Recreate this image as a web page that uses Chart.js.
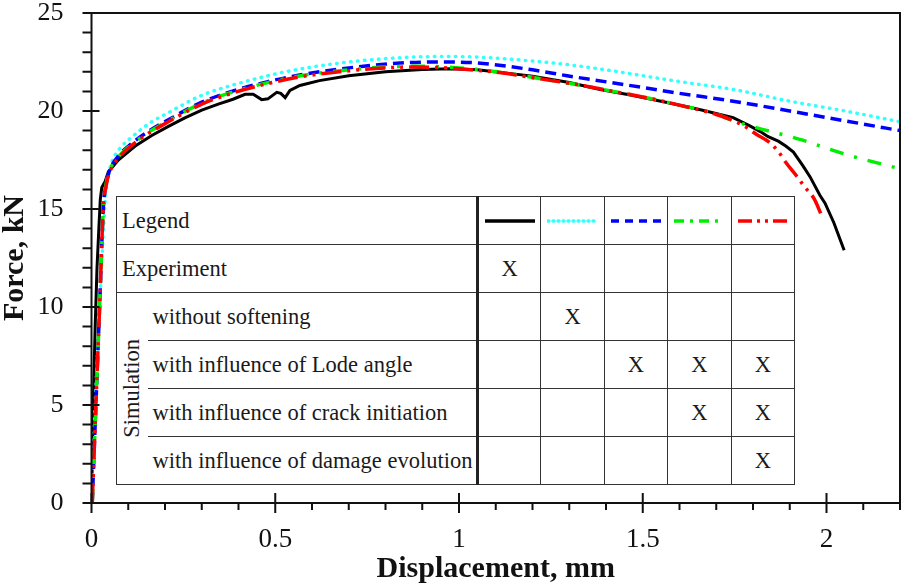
<!DOCTYPE html>
<html>
<head>
<meta charset="utf-8">
<script src="https://cdn.jsdelivr.net/npm/chart.js@4"></script>
<style>
  html, body { margin: 0; padding: 0; background: #fff; }
  #wrap { position: relative; width: 903px; height: 588px; }
  #wrap canvas { position: absolute; left: 0; top: 0; }
  #legendTable {
    position: absolute; left: 116px; top: 196px; width: 679px; height: 289px;
    border-collapse: collapse; table-layout: fixed; background: #fff;
    font-family: 'Liberation Serif', 'Times New Roman', serif; font-size: 22.5px; color: #1a1a1a;
  }
  #legendTable td { border: 1.5px solid #333; padding: 0; height: 47px; text-align: center; vertical-align: middle; white-space: nowrap; }
  #legendTable td.lbl { text-align: left; padding-left: 5px; }
  #legendTable td.sep { border-left: 3px solid #222; }
  #legendTable td.sim { border-right-style: hidden; }
  #legendTable td.sim div { writing-mode: vertical-rl; transform: rotate(180deg); margin: 0 auto; }
  #legendTable td.sub { border-left-style: hidden; }
  #legendTable svg { display: block; margin: 0 auto; }
</style>
</head>
<body>
<div id="wrap">
  <canvas id="myChart" width="903" height="588"></canvas>
  <table id="legendTable"></table>
</div>
<script>
// axis ticks
const xTicks = [0, 0.5, 1, 1.5, 2];
const yTicks = [0, 5, 10, 15, 20, 25];

// experiment (black solid)
const expX = [0, 0.003, 0.006, 0.01, 0.015, 0.02, 0.024, 0.028, 0.037, 0.046, 0.073, 0.118, 0.164, 0.208, 0.254, 0.3, 0.345, 0.385, 0.418, 0.44, 0.463, 0.48, 0.504, 0.515, 0.527, 0.54, 0.567, 0.62, 0.7, 0.8, 0.9, 0.975, 1.05, 1.2, 1.3, 1.384, 1.47, 1.566, 1.66, 1.746, 1.79, 1.82, 1.84, 1.87, 1.89, 1.91, 1.936, 1.955, 1.982, 1.996, 2.02, 2.048];
const expY = [0, 3, 6, 9, 12, 14, 15.5, 16.1, 16.4, 16.9, 17.5, 18.2, 18.75, 19.2, 19.65, 20.05, 20.35, 20.6, 20.85, 20.85, 20.58, 20.62, 20.95, 20.9, 20.68, 21.05, 21.3, 21.55, 21.8, 22.0, 22.12, 22.16, 22.1, 21.78, 21.45, 21.1, 20.8, 20.43, 20.05, 19.66, 19.25, 18.95, 18.7, 18.45, 18.2, 17.9, 17.2, 16.65, 15.7, 15.3, 14.3, 12.9];

// simulation without softening (cyan dotted)
const noSoftX = [0, 0.01, 0.02, 0.03, 0.038, 0.048, 0.06, 0.08, 0.118, 0.16, 0.208, 0.3, 0.39, 0.48, 0.57, 0.7, 0.84, 0.95, 1.05, 1.2, 1.294, 1.4, 1.5, 1.6, 1.746, 1.9, 2.05, 2.2];
const noSoftY = [0, 5, 9, 13, 15.6, 16.9, 17.6, 18.15, 18.8, 19.4, 19.9, 20.8, 21.35, 21.8, 22.15, 22.5, 22.72, 22.78, 22.75, 22.55, 22.37, 22.1, 21.8, 21.5, 21.1, 20.5, 20.0, 19.45];

// with influence of Lode angle (blue dashed)
const lodeX = [0.002, 0.012, 0.022, 0.032, 0.04, 0.05, 0.073, 0.1, 0.15, 0.209, 0.3, 0.39, 0.48, 0.57, 0.7, 0.84, 0.95, 1.05, 1.2, 1.294, 1.5, 1.6, 1.746, 1.9, 2.05, 2.2];
const lodeY = [0, 5, 10, 15, 16.3, 17.0, 17.7, 18.2, 18.9, 19.55, 20.45, 21.05, 21.5, 21.85, 22.2, 22.45, 22.5, 22.45, 22.1, 21.8, 21.2, 20.9, 20.5, 20.0, 19.5, 19.0];

// with influence of crack initiation (green dash-dot)
const crackX = [0.002, 0.012, 0.022, 0.032, 0.04, 0.05, 0.073, 0.1, 0.15, 0.209, 0.3, 0.39, 0.48, 0.57, 0.7, 0.8, 0.9, 1.0, 1.11, 1.2, 1.32, 1.42, 1.51, 1.6, 1.7, 1.746, 1.8, 1.93, 2.05, 2.2];
const crackY = [0, 5, 10, 15, 16.3, 17.0, 17.65, 18.15, 18.85, 19.5, 20.4, 21.0, 21.45, 21.8, 22.1, 22.25, 22.28, 22.2, 21.98, 21.72, 21.35, 21.0, 20.68, 20.3, 19.85, 19.5, 19.2, 18.54, 17.8, 17.05];

// with influence of damage evolution (red dash-dot-dot)
const damageX = [0.002, 0.012, 0.022, 0.032, 0.04, 0.05, 0.073, 0.1, 0.15, 0.209, 0.3, 0.39, 0.48, 0.57, 0.7, 0.8, 0.885, 1.0, 1.11, 1.2, 1.32, 1.42, 1.51, 1.6, 1.7, 1.77, 1.81, 1.846, 1.87, 1.89, 1.92, 1.94, 1.968, 1.99];
const damageY = [0, 5, 10, 15, 16.2, 16.9, 17.6, 18.1, 18.8, 19.45, 20.35, 20.95, 21.4, 21.75, 22.05, 22.2, 22.25, 22.15, 21.96, 21.7, 21.35, 21.0, 20.68, 20.3, 19.82, 19.3, 18.8, 18.38, 17.9, 17.36, 16.65, 16.14, 15.47, 14.5];

// legend table
const tableRows = ['Experiment', 'without softening', 'with influence of Lode angle', 'with influence of crack initiation', 'with influence of damage evolution'];
const tableMarks = [
  [1, 0, 0, 0, 0],
  [0, 1, 0, 0, 0],
  [0, 0, 1, 1, 1],
  [0, 0, 0, 1, 1],
  [0, 0, 0, 0, 1]
];
const seriesColors = ['#000000', '#33ffff', '#0000ff', '#00ee00', '#ff0000'];
const seriesDash = [[], [0.5, 6.5], [11, 6], [14, 11, 3, 11], [20, 6, 3, 6, 3, 6]];
const legendDash = ['', '1,4', '8,6', '10,6,3,6', '14,5,3,5,3,5'];

const serif = "'Liberation Serif', 'Times New Roman', serif";

function pts(xs, ys) {
  return xs.map((x, i) => ({x: x, y: ys[i]}));
}

function buildTable() {
  let html = '<colgroup><col style="width:31px"><col style="width:330px">';
  for (let i = 0; i < 5; i++) html += '<col>';
  html += '</colgroup>';
  html += '<tr><td class="lbl" colspan="2">Legend</td>';
  for (let i = 0; i < 5; i++) {
    const cap = i == 1 ? 'round' : 'butt';
    html += '<td' + (i == 0 ? ' class="sep"' : '') + '><svg width="52" height="8"><line x1="1" y1="4" x2="51" y2="4" stroke="' + seriesColors[i] +
      '" stroke-width="3.5" stroke-linecap="' + cap + '"' + (legendDash[i] ? ' stroke-dasharray="' + legendDash[i] + '"' : '') + '/></svg></td>';
  }
  html += '</tr>';
  for (let r = 0; r < tableRows.length; r++) {
    html += '<tr>';
    if (r == 0) {
      html += '<td class="lbl" colspan="2">' + tableRows[r] + '</td>';
    } else {
      if (r == 1) html += '<td class="sim" rowspan="4"><div>Simulation</div></td>';
      html += '<td class="lbl sub">' + tableRows[r] + '</td>';
    }
    for (let c = 0; c < 5; c++) {
      html += '<td' + (c == 0 ? ' class="sep"' : '') + '>' + (tableMarks[r][c] ? 'X' : '') + '</td>';
    }
    html += '</tr>';
  }
  document.getElementById('legendTable').innerHTML = html;
}
buildTable();

// frame and major/minor tick marks
const frameTicks = {
  id: 'frameTicks',
  afterDraw(chart) {
    const ctx = chart.ctx;
    const a = chart.chartArea;
    const x = chart.scales.x;
    const y = chart.scales.y;
    ctx.save();
    ctx.strokeStyle = '#111';
    ctx.lineWidth = 2;
    ctx.strokeRect(a.left, a.top, a.right - a.left, a.bottom - a.top);
    ctx.beginPath();
    for (let i = 0; i <= 22; i++) {
      const px = x.getPixelForValue(i / 10);
      const major = i % 5 == 0;
      ctx.moveTo(px, major ? a.bottom - 10 : a.bottom);
      ctx.lineTo(px, a.bottom + (major ? 10 : 7));
    }
    for (let i = 0; i <= 25; i++) {
      const py = y.getPixelForValue(i);
      const major = i % 5 == 0;
      ctx.moveTo(a.left - 9, py);
      ctx.lineTo(major ? a.left + 8 : a.left, py);
    }
    ctx.stroke();
    ctx.restore();
  }
};

const ctx = document.getElementById('myChart').getContext('2d');
const myChart = new Chart(ctx, {
  type: 'scatter',
  data: {
    datasets: [
      {label: 'Experiment', data: pts(expX, expY), borderColor: seriesColors[0], borderWidth: 3, tension: 0, order: 5},
      {label: 'Without softening', data: pts(noSoftX, noSoftY), borderColor: seriesColors[1], borderWidth: 3.5, borderDash: seriesDash[1], borderCapStyle: 'round', cubicInterpolationMode: 'monotone', order: 4},
      {label: 'Lode angle', data: pts(lodeX, lodeY), borderColor: seriesColors[2], borderWidth: 3.5, borderDash: seriesDash[2], cubicInterpolationMode: 'monotone', order: 3},
      {label: 'Crack initiation', data: pts(crackX, crackY), borderColor: seriesColors[3], borderWidth: 3.5, borderDash: seriesDash[3], cubicInterpolationMode: 'monotone', order: 2},
      {label: 'Damage evolution', data: pts(damageX, damageY), borderColor: seriesColors[4], borderWidth: 3.5, borderDash: seriesDash[4], cubicInterpolationMode: 'monotone', order: 1}
    ].map(d => Object.assign({showLine: true, pointRadius: 0, pointHoverRadius: 0, fill: false}, d))
  },
  options: {
    responsive: false,
    animation: false,
    layout: {padding: {top: 13, right: 3, left: 0, bottom: 0}},
    plugins: {
      legend: {display: false},
      tooltip: {enabled: false}
    },
    scales: {
      x: {
        type: 'linear',
        min: 0,
        max: 2.2,
        grid: {display: false, drawTicks: false},
        border: {display: false},
        afterBuildTicks: s => { s.ticks = xTicks.map(v => ({value: v})); },
        afterFit: s => { s.height = 85; s.paddingLeft = 0; s.paddingRight = 0; },
        ticks: {font: {family: serif, size: 27}, color: '#111', padding: 21, maxRotation: 0, autoSkip: false, callback: v => String(v)},
        title: {display: true, text: 'Displacement, mm', color: '#111', font: {family: serif, size: 30, weight: 'bold', lineHeight: 1}, padding: {top: 0, bottom: 4}}
      },
      y: {
        type: 'linear',
        min: 0,
        max: 25,
        grid: {display: false, drawTicks: false},
        border: {display: false},
        afterBuildTicks: s => { s.ticks = yTicks.map(v => ({value: v})); },
        afterFit: s => { s.width = 91.5; s.paddingTop = 0; s.paddingBottom = 0; },
        ticks: {font: {family: serif, size: 26}, color: '#111', padding: 28, autoSkip: false, callback: v => String(v)},
        title: {display: true, text: 'Force, kN', color: '#111', font: {family: serif, size: 30, weight: 'bold', lineHeight: 1}, padding: {top: 0, bottom: 0}}
      }
    }
  },
  plugins: [frameTicks]
});
</script>
</body>
</html>
